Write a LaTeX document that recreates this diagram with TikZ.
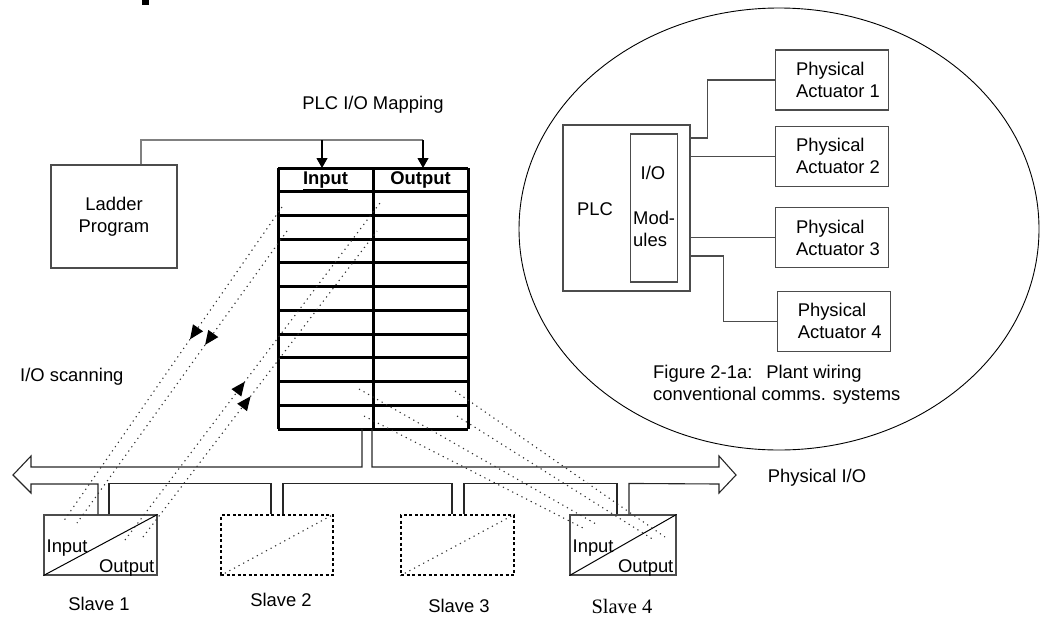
\documentclass[tikz,border=0pt]{standalone}
\usepackage{fontspec}
\setmainfont{Liberation Sans}
\newfontfamily\slavefour{Liberation Serif}
\usetikzlibrary{positioning, arrows.meta, decorations.markings}

\definecolor{wiregray}{gray}{0.5}
\definecolor{boxgray}{gray}{0.3}
\definecolor{dotgray}{gray}{0.2}

\newcommand{\actlabel}[1]{\hspace*{12pt}Physical\\\hspace*{12pt}Actuator #1}

\tikzset{
  every node/.style={font=\fontsize{18.4}{22}\selectfont, inner sep=0pt},
  plainbox/.style={draw=boxgray, line width=1.1pt, rectangle},
  actbox/.style={plainbox, minimum width=113pt, minimum height=60pt, align=left},
  slavebox/.style={plainbox, minimum height=60pt},
  ghostbox/.style={draw=black, line width=1.5pt, dash pattern=on 3pt off 2.5pt, minimum height=60pt},
  tableline/.style={draw=black, line width=3pt},
  wire/.style={draw=wiregray, line width=1.2pt},
  bus/.style={draw=black!85, line width=1.1pt},
  feed/.style={draw=black, line width=1.1pt, -{Triangle[length=10pt,width=11pt]}},
  dotline/.style={draw=dotgray, line width=1.1pt, dash pattern=on 1.2pt off 4pt},
  midarrow/.style={postaction={decorate}, decoration={markings,
      mark=at position #1 with {\arrow[black, solid]{Triangle[length=14pt,width=12pt]}}}}
}

\begin{document}
\begin{tikzpicture}[x=1pt, y=-1pt]
    \useasboundingbox (0,0) rectangle (1040,616);
    \fill (142,0) rectangle (149,5);

    % Ladder program and I/O map
    \node[plainbox, minimum width=126pt, minimum height=103pt, align=center] (ladder) at (114,216.5) {Ladder\\Program};
    \node (maptitle) at (373,105) {PLC I/O Mapping};

    \foreach \i in {0,...,11}
        \draw[tableline] (278,{168+23.73*\i}) -- (468,{168+23.73*\i});
    \draw[tableline] (278,168) -- (278,429);
    \draw[tableline] (373,168) -- (373,429);
    \draw[tableline] (468,168) -- (468,429);
    \node (inhead) at (325.5,181) {\underline{\textbf{Input}}};
    \node (outhead) at (420.5,181) {\underline{\textbf{Output}}};

    \coordinate (intop) at (322,168);
    \coordinate (outtop) at (423,168);
    \coordinate (tblA) at (362,429);
    \coordinate (tblB) at (372,429);

    \draw[wire] ([xshift=27pt]ladder.north) |- ([yshift=28pt]outtop);
    \draw[feed] ([yshift=28pt]intop) -- (intop);
    \draw[feed] ([yshift=28pt]outtop) -- (outtop);

    % Slaves
    \node[slavebox, minimum width=113pt] (s1) at (100.5,545) {};
    \node[ghostbox, minimum width=112pt] (s2) at (277,545) {};
    \node[ghostbox, minimum width=113pt] (s3) at (457.5,545) {};
    \node[slavebox, minimum width=106pt] (s4) at (623,545) {};

    \draw[black, line width=1pt] (s1.south west) -- (s1.north east);
    \draw[black, line width=1pt] (s4.south west) -- (s4.north east);
    \draw[dotline] (s2.south west) -- (s2.north east);
    \draw[dotline] (s3.south west) -- (s3.north east);

    \node[anchor=west] (s1in) at ([xshift=3pt,yshift=-3pt]s1.west) {Input};
    \node[anchor=east] (s1out) at ([xshift=-3pt,yshift=-23pt]s1.east) {Output};
    \node[anchor=west] (s4in) at ([xshift=3pt,yshift=-3pt]s4.west) {Input};
    \node[anchor=east] (s4out) at ([xshift=-3pt,yshift=-23pt]s4.east) {Output};

    \node (s1name) at (99,604) {Slave 1};
    \node (s2name) at (281,600) {Slave 2};
    \node (s3name) at (459,606) {Slave 3};
    \node[font=\slavefour\fontsize{20.5}{22}\selectfont] (s4name) at (622,606) {Slave 4};

    % Physical I/O bus
    \draw[bus] (tblA) -- (362,467) -- (31,467) -- (31,456) -- (13,475) -- (31,493) -- (31,484) -| ([xshift=-2.5pt]s1.north);
    \draw[bus] ([xshift=8.5pt]s1.north) -- ++(0,-31) -| ([xshift=-6pt]s2.north);
    \draw[bus] ([xshift=6pt]s2.north) -- ++(0,-31) -| ([xshift=-5.5pt]s3.north);
    \draw[bus] ([xshift=6.5pt]s3.north) -- ++(0,-31) -| ([xshift=-6pt]s4.north);
    \draw[bus] ([xshift=6pt]s4.north) -- ++(0,-31) -- (719,484) -- (719,493) -- (736,475) -- (719,456) -- (719,467) -- (372,467) -- (tblB);
    \node (physio) at (817,478) {Physical I/O};
    \node[anchor=west] (scan) at (20,377) {I/O scanning};

    % I/O scanning lines
    \draw[dotline, midarrow=0.42] (282,207) -- (63,522);
    \draw[dotline, midarrow=0.39] (287,231) -- (77,523);
    \draw[dotline, midarrow=0.47] (125,540) -- (380,203);
    \draw[dotline, midarrow=0.46] (143,537) -- (377,231);
    \draw[dotline] (359,389) -- (596,524);
    \draw[dotline] (364,416) -- (585,529);
    \draw[dotline] (455,391) -- (665,537);
    \draw[dotline] (457,416) -- (654,540);

    % Conventional wiring
    \draw[black, line width=0.9pt] (779,229) ellipse [x radius=260, y radius=221];
    \node[plainbox, minimum width=127pt, minimum height=166pt] (plc) at (626.5,208) {};
    \node (plcname) at (595,209) {PLC};
    \node[plainbox, minimum width=47pt, minimum height=148pt] (iomod) at (654,208) {};
    \node (iotext) at (653,173) {I/O};
    \node[anchor=west, align=left] (modtext) at (633,228.5) {Mod-\\ules};

    \node[actbox] (act1) at (832,80) {\actlabel{1}};
    \node[actbox] (act2) at (832,156.3) {\actlabel{2}};
    \node[actbox] (act3) at (832,237.5) {\actlabel{3}};
    \node[actbox] (act4) at (833.7,321.3) {\actlabel{4}};

    \draw[draw=boxgray, line width=1.1pt] ([yshift=70pt]plc.east) -- ++(17,0) |- (act1.west);
    \draw[draw=boxgray, line width=1.1pt] (plc.east |- act2.west) -- (act2.west);
    \draw[draw=boxgray, line width=1.1pt] (plc.east |- act3.west) -- (act3.west);
    \draw[draw=boxgray, line width=1.1pt] ([yshift=-48pt]plc.east) -- ++(33,0) |- (act4.west);

    \node[anchor=west, align=left] (caption) at (653,385) {Figure 2-1a:\hspace{14pt}Plant wiring\\conventional comms. systems};
\end{tikzpicture}
\end{document}
